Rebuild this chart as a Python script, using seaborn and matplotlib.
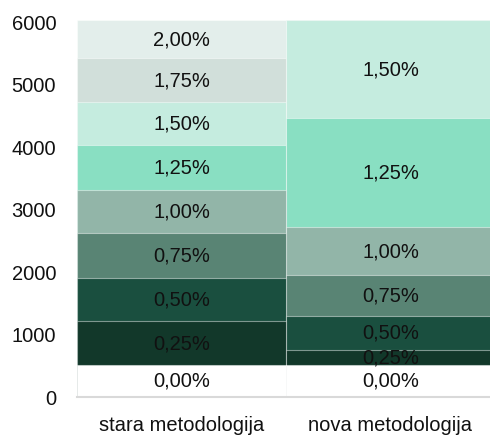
import matplotlib
matplotlib.use("Agg")
import matplotlib.pyplot as plt
import numpy as np
import pandas as pd
import seaborn as sns

methods = ["stara metodologija", "nova metodologija"]
rates = ["0,00%", "0,25%", "0,50%", "0,75%", "1,00%", "1,25%", "1,50%", "1,75%", "2,00%"]
stara = [512, 694, 698, 710, 698, 715, 693, 699, 613]
nova = [512, 240, 544, 651, 763, 1754, 1568, 0, 0]
colors = ["#FFFFFF", "#12382A", "#1A4F3F", "#598474", "#92B5A8",
          "#89DFC2", "#C5ECDF", "#D1DFDA", "#E3EEEB"]
yticks = [0, 1000, 2000, 3000, 4000, 5000, 6000]

sns.set_theme(style="white")
plt.rcParams["font.family"] = ["Liberation Sans", "DejaVu Sans"]
fs = 14.5

df = pd.DataFrame({"method": np.repeat(methods, len(rates)),
                   "rate": rates * len(methods),
                   "value": stara + nova})
df["top"] = df.groupby("method", sort=False)["value"].cumsum()
df["bottom"] = df["top"] - df["value"]

fig = plt.figure(figsize=(4.9, 4.39), dpi=100)
ax = fig.add_axes([77 / 490, 41.5 / 439, 418 / 490, 377.5 / 439])

# cumulative bars drawn from the top level down, so each lower one covers the rest
for i in range(len(rates) - 1, -1, -1):
    sub = df[df["rate"] == rates[i]]
    sns.barplot(data=sub, x="method", y="top", order=methods, color=colors[i],
                width=1.0, saturation=1, edgecolor=(1, 1, 1, 0.45), linewidth=0.8,
                ax=ax)

for _, r in df.iterrows():
    if r["value"] <= 0:
        continue
    xi = methods.index(r["method"])
    ax.text(xi, (r["top"] + r["bottom"]) / 2, r["rate"], ha="center", va="center",
            fontsize=fs, color="#111111")

ax.set_xlim(-0.5, 1.5)
ax.set_ylim(0, 6040)
ax.set_yticks(yticks)
ax.set_yticklabels([str(v) for v in yticks])
ax.set_xlabel("")
ax.set_ylabel("")
for s in ["top", "right", "left"]:
    ax.spines[s].set_visible(False)
ax.spines["bottom"].set_color("#D9D9D9")
ax.spines["bottom"].set_linewidth(1.5)
ax.tick_params(axis="both", length=0, labelsize=fs, colors="#111111")
ax.tick_params(axis="y", pad=15)
ax.tick_params(axis="x", pad=13)

fig.savefig("out.png", dpi=100)
